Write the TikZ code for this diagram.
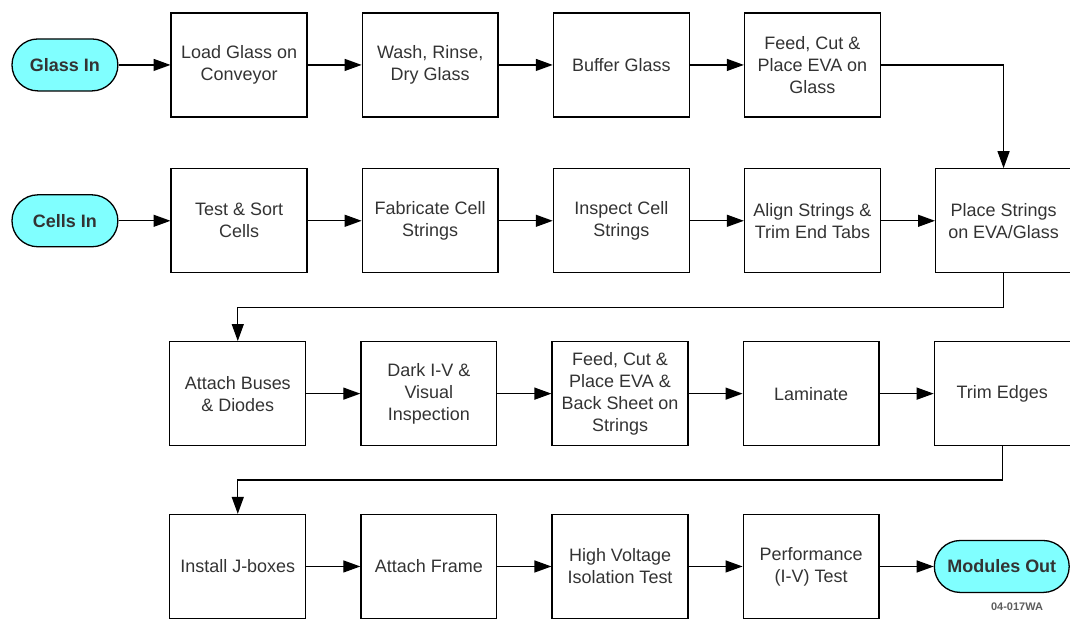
\documentclass[tikz,border=0pt]{standalone}
\usepackage{fontspec}
\setmainfont{Liberation Sans}
\usetikzlibrary{arrows.meta, positioning, calc}
\definecolor{termfill}{HTML}{80FFFF}
\definecolor{boxtext}{HTML}{333333}

\begin{document}
\begin{tikzpicture}[
    x=1pt, y=-1pt,
    node distance=54pt,
    every node/.style={font=\fontsize{18}{22}\selectfont, align=center},
    stepbox/.style={draw, line width=1.3pt, minimum width=136pt, minimum height=104pt, inner sep=2pt, text=boxtext},
    terminal/.style={draw, line width=1.3pt, fill=termfill, rounded corners=26pt, minimum height=52pt, font=\fontsize{18}{22}\selectfont\bfseries, text=boxtext},
    flow/.style={draw, ->, line width=1.3pt},
    >={Triangle[length=17pt, width=12pt]}
]
\useasboundingbox (0,0) rectangle (1071,620);

% Row 1: glass
\node[terminal, minimum width=106pt] (glassin) at (65,65) {Glass In};
\node[stepbox, right=52pt of glassin] (load) {Load Glass on\\Conveyor};
\node[stepbox, right=of load] (wash) {Wash, Rinse,\\Dry Glass};
\node[stepbox, right=of wash] (buffer) {Buffer Glass};
\node[stepbox, right=of buffer] (feedeva) {Feed, Cut \&\\Place EVA on\\Glass};

% Row 2: cells
\node[terminal, minimum width=106pt] (cellsin) at (65,221) {Cells In};
\node[stepbox, right=52pt of cellsin] (sort) {Test \& Sort\\Cells};
\node[stepbox, right=of sort] (fab) {Fabricate Cell\\Strings};
\node[stepbox, right=of fab] (inspect) {Inspect Cell\\Strings};
\node[stepbox, right=of inspect] (align) {Align Strings \&\\Trim End Tabs};
\node[stepbox, right=of align] (place) {Place Strings\\on EVA/Glass};

% Row 3
\node[stepbox] (buses) at (238,394) {Attach Buses\\\& Diodes};
\node[stepbox, right=of buses] (dark) {Dark I-V \&\\Visual\\Inspection};
\node[stepbox, right=of dark] (backeva) {Feed, Cut \&\\Place EVA \&\\Back Sheet on\\Strings};
\node[stepbox, right=of backeva] (laminate) {Laminate};
\node[stepbox, right=of laminate] (trim) {Trim Edges};

% Row 4
\node[stepbox] (jbox) at (238,567) {Install J-boxes};
\node[stepbox, right=of jbox] (frame) {Attach Frame};
\node[stepbox, right=of frame] (hvtest) {High Voltage\\Isolation Test};
\node[stepbox, right=of hvtest] (ivtest) {Performance\\(I-V) Test};
\node[terminal, minimum width=135pt, right=of ivtest] (modout) {Modules Out};

\node[font=\fontsize{11}{12}\selectfont\bfseries, text=boxtext!80] (tag) at (1018,607) {04-017WA};

% Straight links
\foreach \a/\b in {glassin/load, load/wash, wash/buffer, buffer/feedeva,
                   cellsin/sort, sort/fab, fab/inspect, inspect/align, align/place,
                   buses/dark, dark/backeva, backeva/laminate, laminate/trim,
                   jbox/frame, frame/hvtest, hvtest/ivtest, ivtest/modout}
    \draw[flow] (\a.east) -- (\b.west);

% Row changes
\draw[flow] (feedeva.east) -| (place.north);
\coordinate (turnA) at ($(place.south)!0.5!(buses.north)$);
\draw[flow] (place.south) -- (place.south |- turnA) -| (buses.north);
\coordinate (turnB) at ($(trim.south)!0.5!(jbox.north)$);
\draw[flow] (trim.south) -- (trim.south |- turnB) -| (jbox.north);
\end{tikzpicture}
\end{document}
